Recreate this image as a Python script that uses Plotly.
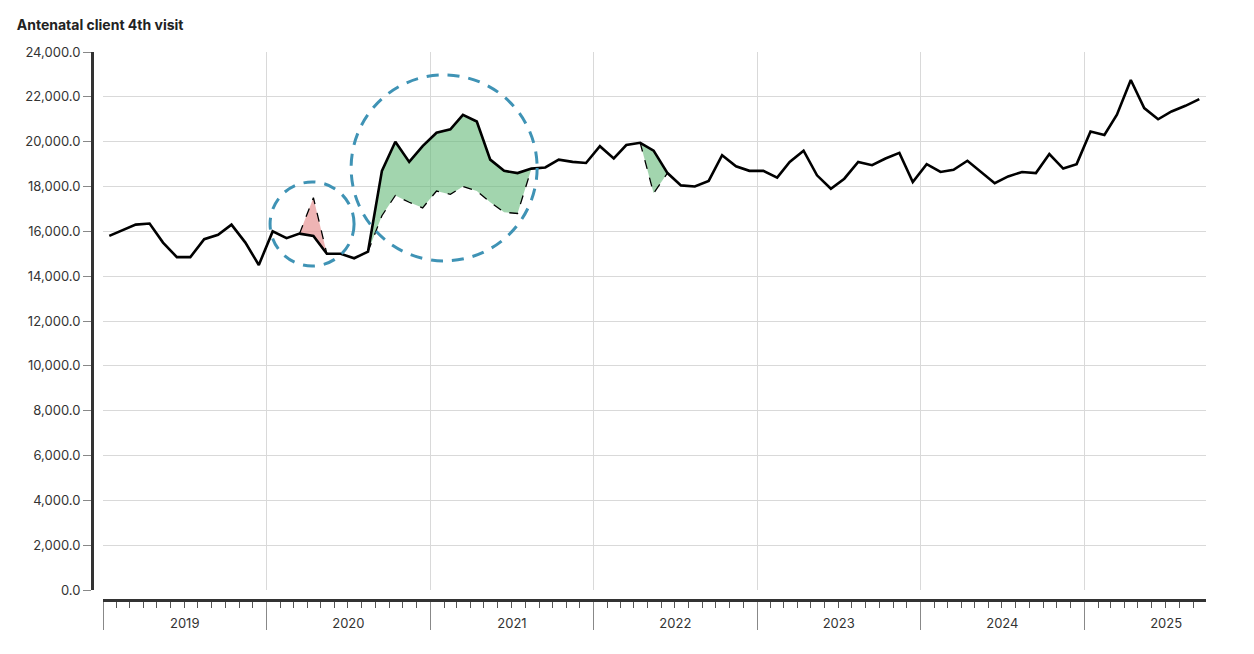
import plotly.graph_objects as go
import pandas as pd

title = "Antenatal client 4th visit"
months = [d.strftime("%Y-%m-15") for d in pd.date_range("2019-01-01", "2025-09-01", freq="MS")]
actual = [15800, 16050, 16300, 16350, 15500, 14850, 14850, 15650, 15850, 16300, 15500, 14500,
          16000, 15700, 15900, 15800, 15000, 15000, 14800, 15100, 18700, 20000, 19100, 19800,
          20400, 20550, 21200, 20900, 19200, 18700, 18600, 18800, 18850, 19200, 19100, 19050,
          19800, 19250, 19850, 19950, 19600, 18600, 18050, 18000, 18250, 19400, 18900, 18700,
          18700, 18400, 19100, 19600, 18500, 17900, 18350, 19100, 18950, 19250, 19500, 18200,
          19000, 18650, 18750, 19150, 18650, 18150, 18450, 18650, 18600, 19450, 18800, 19000,
          20450, 20300, 21200, 22750, 21500, 21000, 21350, 21600, 21900]
# comparison segments: (start index, expected values, fill colour)
seg1_start, seg1_vals, seg1_col = 14, [15900, 17500, 15000], "rgba(226,130,130,0.6)"
seg2_start, seg2_vals, seg2_col = 19, [15100, 16700, 17600, 17300, 17050, 17800, 17650, 18000,
                                       17800, 17300, 16850, 16800, 18800], "rgba(100,185,120,0.6)"
seg3_start, seg3_vals, seg3_col = 39, [19950, 17700, 18600], "rgba(100,185,120,0.6)"
# highlight circles: centre date, centre value, radius (px)
circle_dates = ["2020-04-12", "2021-02-01"]
circle_values = [16330, 18830]
circle_radii = [42, 93]

fig = go.Figure()
for s, vals, col in [(seg1_start, seg1_vals, seg1_col), (seg2_start, seg2_vals, seg2_col),
                     (seg3_start, seg3_vals, seg3_col)]:
    xs = months[s:s + len(vals)]
    fig.add_trace(go.Scatter(x=xs, y=vals, mode="lines", line=dict(color="black", width=1.3, dash="dash"),
                             showlegend=False, hoverinfo="skip"))
    fig.add_trace(go.Scatter(x=xs, y=actual[s:s + len(vals)], mode="lines", line=dict(width=0),
                             fill="tonexty", fillcolor=col, showlegend=False, hoverinfo="skip"))
fig.add_trace(go.Scatter(x=months, y=actual, mode="lines", line=dict(color="black", width=2.6),
                         showlegend=False))

for cx, cy, r in zip(circle_dates, circle_values, circle_radii):
    fig.add_shape(type="circle", xref="x", yref="y", xsizemode="pixel", ysizemode="pixel",
                  xanchor=cx, yanchor=cy, x0=-r, x1=r, y0=-r, y1=r,
                  line=dict(color="#3f93b5", width=3, dash="12px,9px"))

fig.update_layout(
    width=1254, height=654, plot_bgcolor="white", paper_bgcolor="white",
    margin=dict(l=84, r=56, t=44, b=62),
    font=dict(family="Inter, Roboto, sans-serif", size=13, color="#333"),
    title=dict(text="<b>" + title + "</b>", x=0.007, xanchor="left", y=0.974, yanchor="middle",
               font=dict(size=14, color="#222")),
    xaxis=dict(type="date", range=["2019-01-01", "2025-09-30"], domain=[0.0099, 1],
               anchor="free", position=0, automargin=False,
               dtick="M12", tick0="2019-01-01", ticklabelmode="period",
               ticks="outside", ticklen=28, tickcolor="#888", tickwidth=1, ticklabelstandoff=-18,
               minor=dict(dtick="M1", ticks="outside", ticklen=6, tickcolor="#555", showgrid=False),
               showline=True, linecolor="#333", linewidth=3,
               showgrid=True, gridcolor="#d9d9d9", tickfont=dict(size=13)),
    yaxis=dict(range=[0, 24000], dtick=2000, tickformat=",.1f", domain=[0.018, 1],
               anchor="free", position=0, automargin=False,
               showline=True, linecolor="#333", linewidth=3, ticks="outside", ticklen=8, tickcolor="#888",
               showgrid=True, gridcolor="#d9d9d9", zeroline=False, tickfont=dict(size=13)),
)
fig.write_html("out.html")
